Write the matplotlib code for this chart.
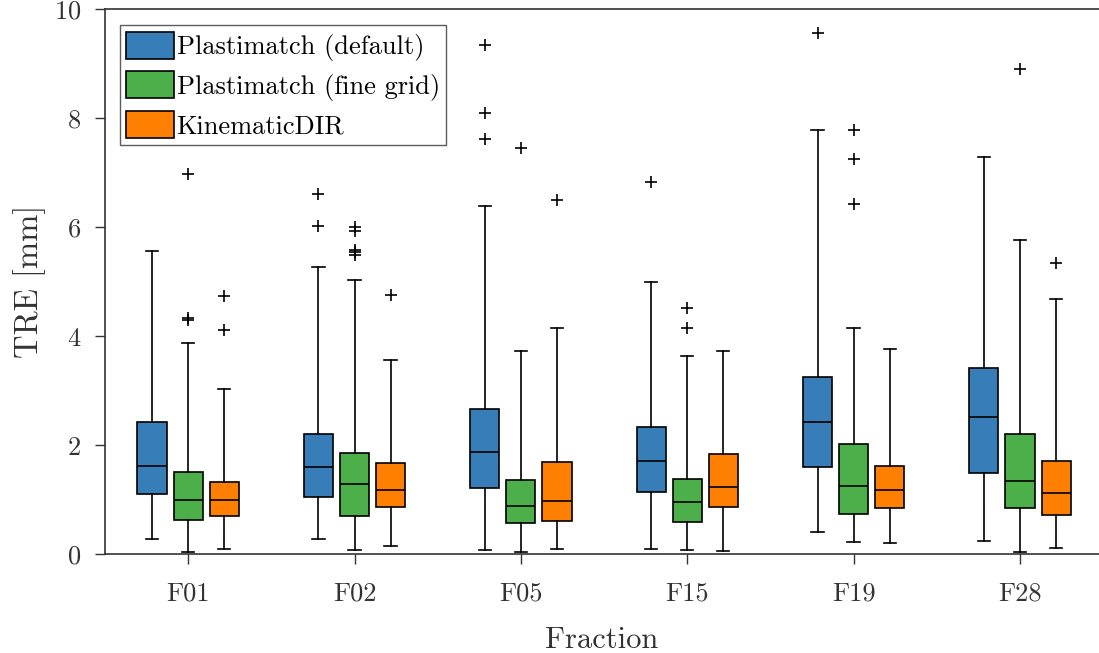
import matplotlib
matplotlib.use('Agg')
import matplotlib.pyplot as plt
from matplotlib.patches import Patch

plt.rcParams['font.family'] = 'cmr10'
plt.rcParams['mathtext.fontset'] = 'cm'
plt.rcParams['axes.formatter.use_mathtext'] = True

# data (mm)
fractions = ['F01', 'F02', 'F05', 'F15', 'F19', 'F28']
methods = ['Plastimatch (default)', 'Plastimatch (fine grid)', 'KinematicDIR']
colors = ['#377eb8', '#4daf4a', '#ff7f00']

default_whislo = [0.28, 0.28, 0.08, 0.09, 0.41, 0.24]
default_q1 = [1.10, 1.04, 1.22, 1.14, 1.60, 1.49]
default_med = [1.62, 1.59, 1.88, 1.70, 2.43, 2.51]
default_q3 = [2.43, 2.21, 2.67, 2.33, 3.25, 3.41]
default_whishi = [5.57, 5.28, 6.40, 5.00, 7.78, 7.29]
default_fliers = [[], [6.62, 6.03], [9.35, 8.09, 7.62], [6.83], [9.56], []]

fine_whislo = [0.03, 0.08, 0.03, 0.07, 0.22, 0.03]
fine_q1 = [0.63, 0.69, 0.57, 0.59, 0.73, 0.85]
fine_med = [1.00, 1.28, 0.89, 0.95, 1.25, 1.34]
fine_q3 = [1.51, 1.86, 1.36, 1.37, 2.03, 2.20]
fine_whishi = [3.87, 5.04, 3.73, 3.63, 4.15, 5.76]
fine_fliers = [[6.97, 4.33, 4.29], [6.00, 5.94, 5.59, 5.54, 5.49], [7.45], [4.51, 4.15],
               [7.78, 7.25, 6.43], [8.90]]

kin_whislo = [0.10, 0.15, 0.09, 0.06, 0.20, 0.12]
kin_q1 = [0.70, 0.86, 0.61, 0.86, 0.85, 0.71]
kin_med = [1.00, 1.18, 0.97, 1.23, 1.17, 1.12]
kin_q3 = [1.32, 1.67, 1.69, 1.84, 1.62, 1.71]
kin_whishi = [3.04, 3.57, 4.15, 3.73, 3.77, 4.68]
kin_fliers = [[4.73, 4.11], [4.76], [6.51], [], [], [5.35]]

series = [
    (default_whislo, default_q1, default_med, default_q3, default_whishi, default_fliers),
    (fine_whislo, fine_q1, fine_med, fine_q3, fine_whishi, fine_fliers),
    (kin_whislo, kin_q1, kin_med, kin_q3, kin_whishi, kin_fliers),
]

fig = plt.figure(figsize=(10.99, 6.53), dpi=100)
ax = fig.add_axes([0.0955, 0.1515, 0.9045, 0.834])

offset = 0.217
width = 0.175
for k, (lo, q1, med, q3, hi, fl) in enumerate(series):
    stats = [dict(whislo=lo[i], q1=q1[i], med=med[i], q3=q3[i], whishi=hi[i], fliers=fl[i])
             for i in range(len(fractions))]
    pos = [i + 1 + (k - 1) * offset for i in range(len(fractions))]
    ax.bxp(stats, positions=pos, widths=width, capwidths=width * 0.42,
           patch_artist=True, showfliers=True,
           boxprops=dict(facecolor=colors[k], edgecolor='black', linewidth=1.2),
           medianprops=dict(color='black', linewidth=1.2),
           whiskerprops=dict(color='black', linewidth=1.2),
           capprops=dict(color='black', linewidth=1.2),
           flierprops=dict(marker='+', markeredgecolor='black', markersize=8,
                           markeredgewidth=1.2, linestyle='none'))

ax.set_xlim(0.5, 6.475)
ax.set_ylim(0, 10)
ax.set_xticks(range(1, len(fractions) + 1))
ax.set_xticklabels(fractions)
ax.set_yticks([0, 2, 4, 6, 8, 10])
ax.tick_params(axis='both', direction='out', length=7, width=1.0, labelsize=19,
               colors='#333333', labelcolor='#333333')
ax.tick_params(axis='x', pad=13)
ax.tick_params(axis='y', pad=10)
for side in ['left', 'bottom', 'top']:
    ax.spines[side].set_color('#333333')
    ax.spines[side].set_linewidth(1.2)
ax.spines['right'].set_visible(False)

ax.set_xlabel('Fraction', fontsize=22, color='#333333', labelpad=15)
ax.set_ylabel('TRE [mm]', fontsize=23.5, color='#333333', labelpad=6)

handles = [Patch(facecolor=c, edgecolor='black', linewidth=1.2) for c in colors]
leg = ax.legend(handles, methods, loc='upper left', fontsize=19, fancybox=False,
                frameon=True, edgecolor='#333333', handlelength=1.8, handleheight=1.2,
                handletextpad=0.1, borderpad=0.25, labelspacing=0.38,
                borderaxespad=0, bbox_to_anchor=(0.015, 0.971))
leg.get_frame().set_linewidth(1.0)

fig.savefig('out.png', dpi=100)
